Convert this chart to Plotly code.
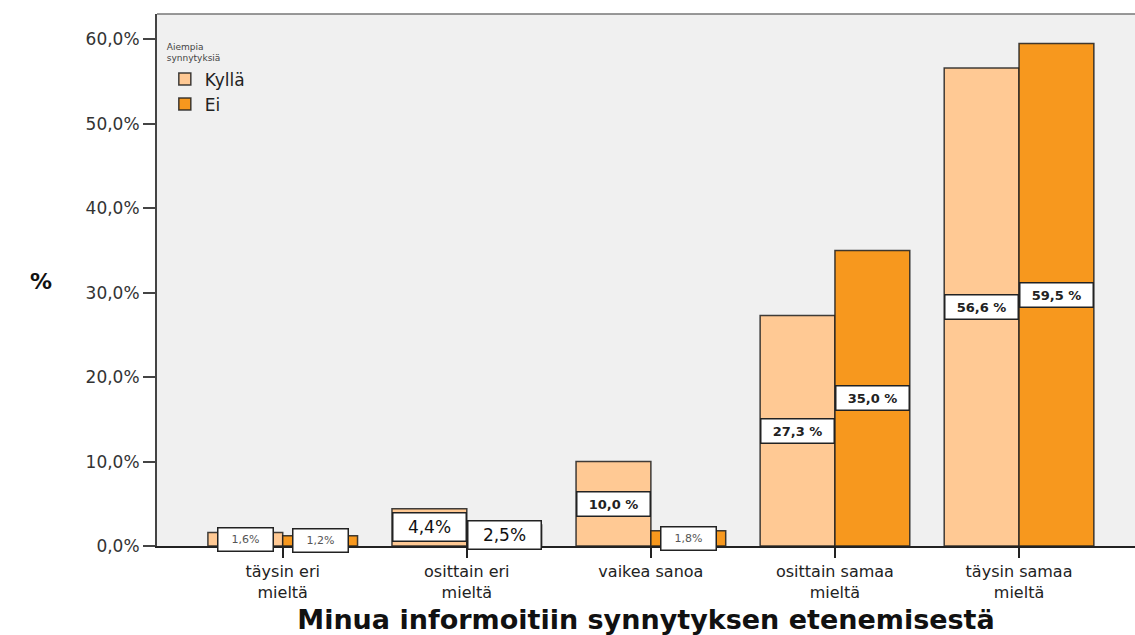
import plotly.graph_objects as go

categories = ["täysin eri<br>mieltä", "osittain eri<br>mieltä", "vaikea sanoa",
              "osittain samaa<br>mieltä", "täysin samaa<br>mieltä"]
series_names = ["Kyllä", "Ei"]
kylla = [1.6, 4.4, 10.0, 27.3, 56.6]
ei = [1.2, 2.5, 1.8, 35.0, 59.5]
y_ticks = [0, 10, 20, 30, 40, 50, 60]
y_tick_labels = ["0,0%", "10,0%", "20,0%", "30,0%", "40,0%", "50,0%", "60,0%"]
colors = ["#FFC994", "#F7981E"]

FONT = "DejaVu Sans"
BARGAP = 0.187

fig = go.Figure()
for name, vals, col in zip(series_names, [kylla, ei], colors):
    fig.add_trace(go.Bar(
        x=categories, y=vals, name=name,
        marker=dict(color=col, line=dict(color="rgba(30,30,30,0.85)", width=1.5)),
    ))

# value labels
half = (1 - BARGAP) / 4
for si, vals in enumerate([kylla, ei]):
    off = -half if si == 0 else half
    for i, v in enumerate(vals):
        txt = f"{v:.1f}".replace(".", ",")
        if v < 2:
            kw = dict(text=txt + "%", width=52, height=20,
                      font=dict(family=FONT, size=11, color="#555"))
        elif v < 5:
            kw = dict(text=txt + "%", width=70, height=25,
                      font=dict(family=FONT, size=17, color="#111"))
        else:
            kw = dict(text="<b>" + txt + " %</b>", width=70, height=21,
                      font=dict(family=FONT, size=13, color="#222"))
        fig.add_annotation(x=i + off, y=v / 2, xref="x", yref="y", showarrow=False,
                           bgcolor="white", bordercolor="#222", borderwidth=1.5,
                           borderpad=1, **kw)

PLOT_H = 635 - 14 - 85
fig.add_annotation(x=(28 - 157) / 978, y=(549 - 283) / PLOT_H, xref="paper", yref="paper",
                   text="<b>%</b>", showarrow=False,
                   font=dict(family=FONT, size=22, color="#111"))

fig.update_layout(
    width=1135, height=635,
    margin=dict(l=157, r=0, t=14, b=85),
    paper_bgcolor="white", plot_bgcolor="#F0F0F0",
    barmode="group", bargap=BARGAP, bargroupgap=0,
    font=dict(family=FONT, color="#333"),
    showlegend=True,
    legend=dict(x=0.008, y=0.955, xanchor="left", yanchor="top",
                bgcolor="rgba(0,0,0,0)",
                title=dict(text="Aiempia<br>synnytyksiä", font=dict(size=9, color="#444"), side="top"),
                font=dict(size=17, color="#222"), itemwidth=30, tracegroupgap=0),
    xaxis=dict(range=[-0.683, 4.63], showline=True, linecolor="#222", linewidth=1.5,
               ticks="outside", ticklen=10, tickcolor="#222", tickwidth=1.5,
               tickfont=dict(family=FONT, size=16, color="#222"), showgrid=False,
               title=dict(text="<b>Minua informoitiin synnytyksen etenemisestä</b>",
                          font=dict(family=FONT, size=27, color="#111"), standoff=14)),
    yaxis=dict(range=[0, 63], tickvals=y_ticks, ticktext=y_tick_labels,
               showline=True, linecolor="#444", linewidth=2, mirror=False,
               ticks="outside", ticklen=12, tickcolor="#444", tickwidth=2,
               tickfont=dict(family=FONT, size=17, color="#333"), showgrid=False,
               zeroline=False),
    shapes=[dict(type="line", xref="paper", yref="paper", x0=0, x1=1, y0=1, y1=1,
                 line=dict(color="#777", width=1.5))],
)

fig.write_html("out.html")
